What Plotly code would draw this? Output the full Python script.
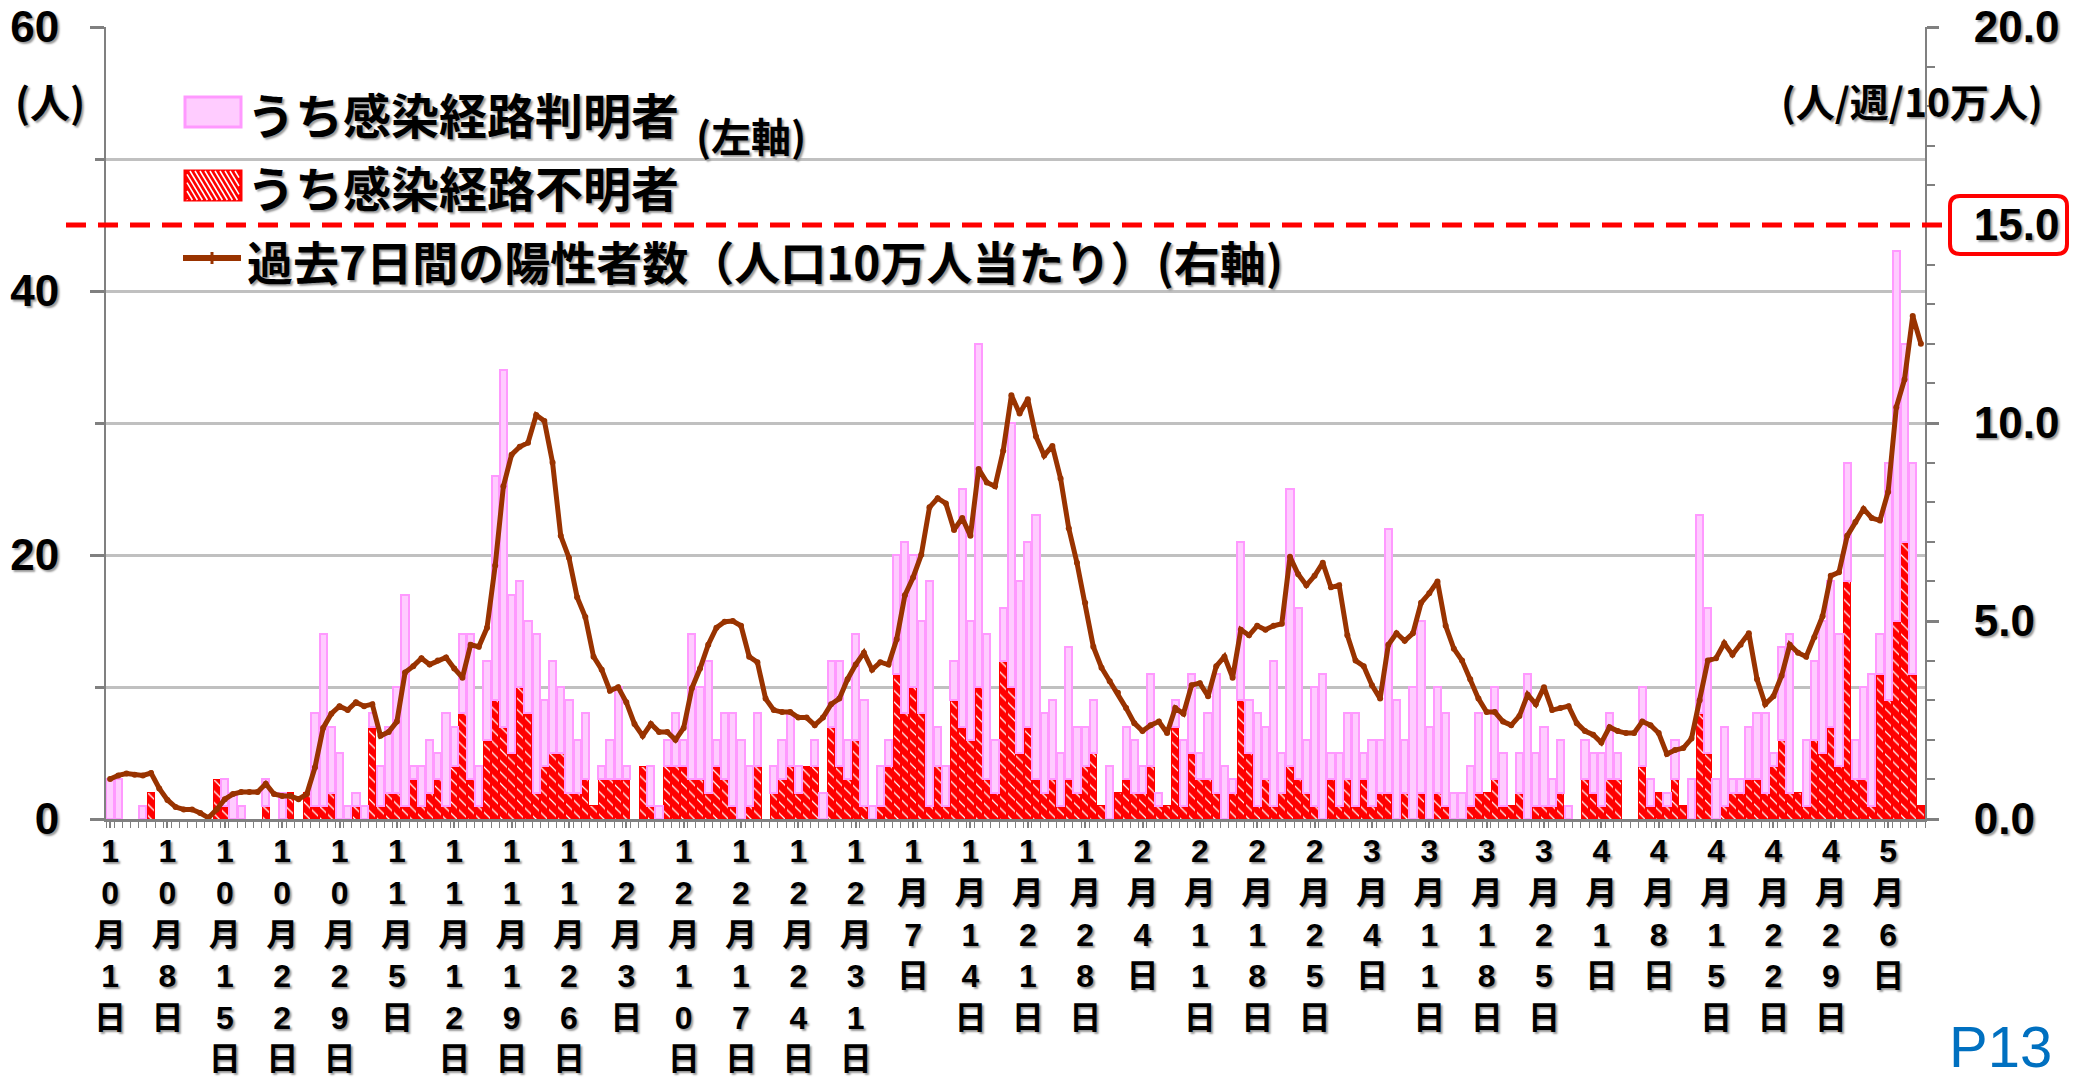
import plotly.graph_objects as go

# ---------------- data ----------------
tick_labels = ["10月1日", "10月8日", "10月15日", "10月22日", "10月29日", "11月5日",
               "11月12日", "11月19日", "11月26日", "12月3日", "12月10日", "12月17日",
               "12月24日", "12月31日", "1月7日", "1月14日", "1月21日", "1月28日",
               "2月4日", "2月11日", "2月18日", "2月25日", "3月4日", "3月11日",
               "3月18日", "3月25日", "4月1日", "4月8日", "4月15日", "4月22日",
               "4月29日", "5月6日"]

# daily cases with unknown infection route (red, hatched) – 10/1 .. 5/10
unknown = [0, 0, 0, 0, 0, 2, 0, 0, 0, 0, 0, 0, 0, 3, 1, 0, 0, 0, 0, 1,
           0, 0, 2, 0, 2, 1, 1, 2, 0, 0, 1, 0, 7, 1, 2, 2, 1, 3, 1, 2,
           3, 1, 4, 8, 3, 1, 6, 9, 7, 5, 10, 8, 2, 4, 5, 5, 2, 2, 3, 1,
           3, 3, 3, 3, 0, 4, 1, 0, 4, 4, 4, 3, 3, 2, 4, 3, 1, 0, 1, 4,
           0, 2, 3, 4, 2, 4, 4, 0, 7, 4, 3, 6, 1, 0, 1, 4, 11, 8, 10, 8,
           1, 4, 1, 9, 7, 6, 10, 3, 2, 12, 10, 5, 7, 3, 2, 3, 1, 3, 2, 4,
           5, 1, 0, 2, 3, 2, 2, 4, 1, 1, 7, 1, 5, 3, 3, 2, 0, 2, 9, 5,
           1, 3, 1, 2, 4, 3, 2, 1, 0, 3, 1, 3, 1, 3, 1, 2, 2, 0, 2, 0,
           2, 0, 2, 1, 0, 0, 1, 2, 2, 3, 1, 1, 2, 0, 1, 1, 1, 2, 0, 0,
           3, 2, 1, 3, 3, 0, 0, 4, 1, 2, 1, 3, 1, 0, 8, 5, 0, 1, 2, 2,
           3, 3, 2, 4, 6, 2, 2, 1, 6, 5, 7, 4, 18, 3, 3, 1, 11, 9, 15, 21,
           11, 1]

# daily cases with known infection route (pink, stacked on top)
known = [3, 3, 0, 0, 1, 0, 0, 0, 0, 0, 0, 0, 0, 0, 2, 2, 1, 0, 0, 2,
         0, 2, 0, 0, 0, 7, 13, 5, 5, 1, 1, 1, 1, 3, 5, 8, 16, 1, 3, 4,
         2, 7, 3, 6, 11, 3, 6, 17, 27, 12, 8, 7, 12, 5, 7, 5, 7, 4, 5, 0,
         1, 3, 7, 1, 0, 0, 3, 1, 2, 4, 2, 11, 7, 10, 2, 5, 7, 6, 3, 4,
         0, 2, 3, 4, 2, 0, 2, 2, 5, 8, 3, 8, 8, 1, 3, 2, 9, 13, 10, 7,
         17, 3, 3, 3, 18, 9, 26, 11, 4, 4, 20, 13, 14, 20, 6, 6, 4, 10, 5, 3,
         4, 0, 4, 0, 4, 4, 2, 7, 1, 0, 2, 5, 6, 2, 5, 9, 4, 1, 12, 4,
         7, 4, 11, 3, 21, 13, 4, 9, 11, 2, 4, 5, 7, 2, 5, 4, 20, 9, 4, 10,
         13, 7, 8, 7, 2, 2, 3, 6, 0, 7, 4, 0, 3, 11, 4, 6, 2, 4, 1, 0,
         3, 3, 4, 5, 2, 0, 0, 6, 2, 0, 1, 3, 0, 3, 15, 11, 3, 6, 1, 1,
         4, 5, 6, 1, 7, 12, 0, 5, 6, 10, 11, 10, 9, 3, 7, 10, 3, 18, 28, 15,
         16, 0]

# positives in the past 7 days per 100k population (right axis)
rate7d = [1.01, 1.10, 1.15, 1.12, 1.10, 1.16, 0.77, 0.48, 0.30, 0.24,
          0.24, 0.15, 0.03, 0.24, 0.50, 0.63, 0.68, 0.68, 0.68, 0.89,
          0.63, 0.58, 0.58, 0.50, 0.63, 1.30, 2.30, 2.66, 2.85, 2.75,
          2.95, 2.85, 2.90, 2.10, 2.20, 2.46, 3.70, 3.86, 4.06, 3.90,
          4.00, 4.08, 3.80, 3.57, 4.40, 4.35, 4.83, 6.40, 8.40, 9.20,
          9.40, 9.50, 10.20, 10.05, 9.00, 7.15, 6.60, 5.60, 5.10, 4.10,
          3.77, 3.24, 3.33, 2.95, 2.40, 2.10, 2.40, 2.20, 2.20, 2.00,
          2.30, 3.30, 3.80, 4.40, 4.83, 4.98, 5.00, 4.88, 4.10, 3.96,
          3.04, 2.75, 2.70, 2.70, 2.56, 2.56, 2.37, 2.56, 2.90, 3.04,
          3.53, 3.90, 4.20, 3.77, 3.96, 3.90, 4.54, 5.65, 6.10, 6.67,
          7.87, 8.10, 7.97, 7.30, 7.60, 7.15, 8.84, 8.50, 8.40, 9.30,
          10.70, 10.24, 10.60, 9.66, 9.18, 9.42, 8.60, 7.34, 6.47, 5.46,
          4.35, 3.82, 3.48, 3.19, 2.80, 2.42, 2.22, 2.37, 2.46, 2.17,
          2.80, 2.66, 3.38, 3.43, 3.10, 3.86, 4.10, 3.57, 4.78, 4.64,
          4.88, 4.78, 4.88, 4.93, 6.62, 6.18, 5.90, 6.14, 6.47, 5.85,
          5.90, 4.64, 4.00, 3.86, 3.38, 3.04, 4.40, 4.69, 4.50, 4.69,
          5.46, 5.70, 6.00, 4.88, 4.30, 4.00, 3.53, 3.04, 2.70, 2.70,
          2.46, 2.37, 2.60, 3.14, 2.90, 3.33, 2.75, 2.80, 2.85, 2.42,
          2.22, 2.13, 1.93, 2.32, 2.22, 2.17, 2.17, 2.46, 2.37, 2.17,
          1.64, 1.74, 1.79, 2.03, 3.00, 4.00, 4.06, 4.44, 4.15, 4.40,
          4.69, 3.53, 2.90, 3.10, 3.62, 4.40, 4.20, 4.10, 4.59, 5.12,
          6.14, 6.23, 7.15, 7.50, 7.83, 7.60, 7.54, 8.26, 10.40, 11.10,
          12.70, 12.00]

threshold = 15.0
left_ticks = [0, 20, 40, 60]
right_ticks = [0, 5, 10, 15, 20]

# ---------------- layout helpers ----------------
W, H = 2078, 1080
# plot area in screen pixels: x 106..1925, y 27..819
ML, MT = 106, 27
MR = W - 1925
MB = H - 819
PW = W - ML - MR
PH = H - MT - MB


def px(x):
    """screen x -> paper x"""
    return (x - ML) / PW


def py(y):
    """screen y -> paper y"""
    return (H - MB - y) / PH


FONT = "Liberation Sans, Noto Sans CJK JP, sans-serif"
JFONT = "Noto Sans CJK JP, Liberation Sans, sans-serif"
SHADOW = "2px 2px 2px #9a9a9a"
GRID = "#C0C0C0"
AXIS = "#808080"
BROWN = "#993300"

days = list(range(len(rate7d)))
tickvals = days[::7][:len(tick_labels)]
ticktext = ["<br>".join(list(s)) for s in tick_labels]

fig = go.Figure()

fig.add_trace(go.Bar(
    x=days, y=[v if v else None for v in unknown], name="うち感染経路不明者",
    marker=dict(color="#FF0000", line=dict(color="#FF0000", width=1),
                pattern=dict(shape="\\", fgcolor="white", bgcolor="#FF0000",
                             size=8, solidity=0.15, fillmode="replace")),
    showlegend=False))

fig.add_trace(go.Bar(
    x=days, y=[v if v else None for v in known], name="うち感染経路判明者",
    marker=dict(color="#FFCCFF", line=dict(color="#FF99FF", width=2)),
    showlegend=False))

fig.add_trace(go.Scatter(
    x=days, y=rate7d, yaxis="y2", mode="lines+markers",
    name="過去7日間の陽性者数",
    line=dict(color=BROWN, width=5),
    marker=dict(size=6, color=BROWN),
    showlegend=False))

shapes = []
# threshold dashed line
shapes.append(dict(type="line", xref="paper", yref="y2",
                   x0=px(66), x1=px(1943), y0=threshold, y1=threshold,
                   line=dict(color="#FF0000", width=5, dash="20px,12px")))
# rounded box around 15.0
x0, x1 = px(1950), px(2067)
y0, y1 = py(254), py(196)
rx, ry = 10 / PW, 10 / PH
path = (f"M{x0+rx},{y1} L{x1-rx},{y1} Q{x1},{y1} {x1},{y1-ry} "
        f"L{x1},{y0+ry} Q{x1},{y0} {x1-rx},{y0} L{x0+rx},{y0} "
        f"Q{x0},{y0} {x0},{y0+ry} L{x0},{y1-ry} Q{x0},{y1} {x0+rx},{y1} Z")
shapes.append(dict(type="path", xref="paper", yref="paper", path=path,
                   line=dict(color="#FF0000", width=4)))

# legend marks
shapes.append(dict(type="rect", xref="paper", yref="paper",
                   x0=px(185), x1=px(241), y0=py(127), y1=py(97),
                   fillcolor="#FFCCFF", line=dict(color="#FF99FF", width=3)))
bx0, bx1, by0, by1 = 185, 241, 171, 200
shapes.append(dict(type="rect", xref="paper", yref="paper",
                   x0=px(bx0), x1=px(bx1), y0=py(by1), y1=py(by0),
                   fillcolor="#FF0000", line=dict(color="#FF0000", width=3)))
hgt = by1 - by0
for k in range(-6, 14):
    sx = bx0 + 5 * k
    ax, ay = sx, by0
    bx, by = sx + hgt * 0.6, by1
    if ax < bx0 + 2:
        ay = by0 + (bx0 + 2 - ax) / 0.6
        ax = bx0 + 2
    if bx > bx1 - 2:
        by = by1 - (bx - (bx1 - 2)) / 0.6
        bx = bx1 - 2
    if ay >= by or ax >= bx:
        continue
    shapes.append(dict(type="line", xref="paper", yref="paper",
                       x0=px(ax), x1=px(bx), y0=py(ay), y1=py(by),
                       line=dict(color="white", width=1.5)))
shapes.append(dict(type="line", xref="paper", yref="paper",
                   x0=px(183), x1=px(241), y0=py(258), y1=py(258),
                   line=dict(color=BROWN, width=6)))
shapes.append(dict(type="line", xref="paper", yref="paper",
                   x0=px(212), x1=px(212), y0=py(252), y1=py(264),
                   line=dict(color=BROWN, width=3)))

ann = []


def txt(text, x, y, size, xanchor="left", color="black", bold=True,
        family=JFONT, shadow=SHADOW):
    ann.append(dict(text=text, xref="paper", yref="paper", x=px(x), y=py(y),
                    xanchor=xanchor, yanchor="middle", showarrow=False,
                    font=dict(family=family, size=size, color=color,
                              weight=700 if bold else 400, shadow=shadow)))


txt("うち感染経路判明者", 245, 113, 48)
txt("(左軸)", 694, 135, 40)
txt("うち感染経路不明者", 245, 186, 48)
txt("過去7日間の陽性者数（人口10万人当たり）(右軸)", 245, 260, 46)
txt("(人)", 50, 101, 40, xanchor="center")
txt("(人/週/10万人)", 1912, 100, 39, xanchor="center")
txt("P13", 2001, 1046, 58, xanchor="center", color="#0070C0", bold=False,
    family=FONT, shadow="none")

fig.update_layout(
    width=W, height=H,
    margin=dict(l=ML, r=MR, t=MT, b=MB, pad=0, autoexpand=False),
    paper_bgcolor="white", plot_bgcolor="white",
    barmode="stack", bargap=0.12,
    showlegend=False,
    font=dict(family=FONT, color="black"),
    xaxis=dict(range=[-0.5, len(days) - 0.5], tickmode="array",
               tickvals=tickvals, ticktext=ticktext, automargin=False,
               ticklabeloverflow="allow",
               tickfont=dict(family=FONT, size=32, weight=700, shadow=SHADOW),
               ticks="outside", ticklen=6, tickwidth=2, tickcolor=AXIS,
               ticklabelstandoff=-4,
               minor=dict(tickmode="linear", tick0=-0.5, dtick=1,
                          ticks="outside", ticklen=6, tickcolor=AXIS, tickwidth=1),
               showline=True, linecolor=AXIS, linewidth=3,
               showgrid=False, zeroline=False, fixedrange=True),
    yaxis=dict(range=[0, 60], tickmode="array", tickvals=left_ticks,
               ticktext=[str(v) for v in left_ticks], automargin=False,
               ticklabeloverflow="allow",
               tickfont=dict(family=FONT, size=44, weight=700, shadow=SHADOW),
               ticks="outside", ticklen=14, tickwidth=3, tickcolor=AXIS,
               ticklabelstandoff=22,
               minor=dict(tickmode="linear", tick0=0, dtick=10, ticks="outside",
                          ticklen=9, tickwidth=3, tickcolor=AXIS,
                          showgrid=True, gridcolor=GRID, gridwidth=3),
               showgrid=True, gridcolor=GRID, gridwidth=3,
               showline=True, linecolor=AXIS, linewidth=2,
               zeroline=False, fixedrange=True),
    yaxis2=dict(range=[0, 20], overlaying="y", side="right",
                tickmode="array", tickvals=right_ticks, automargin=False,
                ticklabeloverflow="allow",
                ticktext=[f"{v:.1f}" for v in right_ticks],
                tickfont=dict(family=FONT, size=44, weight=700, shadow=SHADOW),
                ticks="outside", ticklen=12, tickwidth=3, tickcolor=AXIS,
                ticklabelstandoff=26,
                minor=dict(tickmode="linear", tick0=0, dtick=1, ticks="outside",
                           ticklen=8, tickwidth=2, tickcolor=AXIS),
                showgrid=False, showline=True, linecolor=AXIS, linewidth=2,
                zeroline=False, fixedrange=True),
    shapes=shapes,
    annotations=ann,
)

# remove the default 8px page margin so the figure fills the window exactly
fig.write_html("out.html",
               config={"displayModeBar": False},
               post_script="document.body.style.margin='0px';"
                           "document.body.style.overflow='hidden';")
